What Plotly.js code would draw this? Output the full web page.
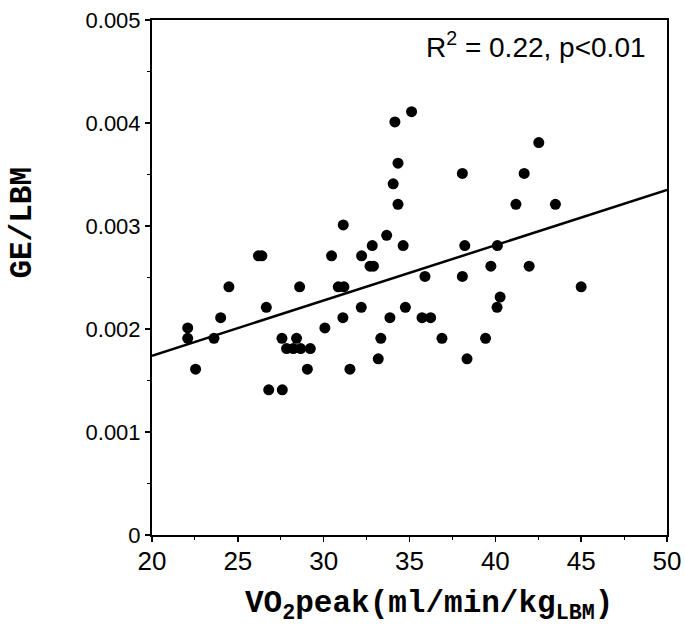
<!DOCTYPE html>
<html>
<head>
<meta charset="utf-8">
<script src="https://cdn.plot.ly/plotly-3.0.1.min.js"></script>
<style>html,body{margin:0;padding:0;background:#fff;}#chart{width:685px;height:626px;}</style>
</head>
<body>
<div id="chart"></div>
<script>
// VO2peak (ml/min/kg LBM)
const vo2peak = [22.08, 22.08, 22.54, 23.61, 24.0, 24.48, 26.2, 26.4, 26.66, 26.8,
  27.59, 27.57, 27.84, 28.23, 28.42, 28.6, 28.66, 29.05, 29.22, 30.07,
  30.46, 30.85, 31.18, 31.12, 31.14, 31.53, 32.19, 32.21, 32.7, 32.9,
  32.83, 33.18, 33.33, 33.67, 33.86, 34.05, 34.15, 34.33, 34.33, 34.63,
  34.76, 35.12, 35.73, 35.9, 36.23, 36.89, 38.08, 38.08, 38.22, 38.35,
  39.43, 39.74, 40.12, 40.1, 40.28, 41.2, 41.68, 41.97, 42.53, 43.5, 45.0];
// GE / LBM
const geLbm = [0.00201, 0.00191, 0.00161, 0.00191, 0.00211, 0.00241, 0.00271, 0.00271, 0.00221, 0.00141,
  0.00141, 0.00191, 0.00181, 0.00181, 0.00191, 0.00241, 0.00181, 0.00161, 0.00181, 0.00201,
  0.00271, 0.00241, 0.00241, 0.00211, 0.00301, 0.00161, 0.00221, 0.00271, 0.00261, 0.00261,
  0.00281, 0.00171, 0.00191, 0.00291, 0.00211, 0.00341, 0.00401, 0.00361, 0.00321, 0.00281,
  0.00221, 0.00411, 0.00211, 0.00251, 0.00211, 0.00191, 0.00351, 0.00251, 0.00281, 0.00171,
  0.00191, 0.00261, 0.00281, 0.00221, 0.00231, 0.00321, 0.00351, 0.00261, 0.00381, 0.00321, 0.00241];
// Regression line end points
const fitX = [20, 50];
const fitY = [0.00174, 0.00335];

const xTicks = [20, 25, 30, 35, 40, 45, 50];
const yTicks = [0, 0.001, 0.002, 0.003, 0.004, 0.005];
const yTickText = ['0', '0.001', '0.002', '0.003', '0.004', '0.005'];
const statText = 'R<sup>2</sup> = 0.22, p<0.01';
const xTitle = 'VO<sub>2</sub>peak(ml/min/kg<sub>LBM</sub>)';
const yTitle = 'GE/LBM';

const sans = 'Liberation Sans, Arial, sans-serif';
const mono = 'Liberation Mono, Courier New, monospace';

const traces = [
  {x: vo2peak, y: geLbm, type: 'scatter', mode: 'markers',
   marker: {color: '#000', size: 11}, hoverinfo: 'x+y', showlegend: false},
  {x: fitX, y: fitY, type: 'scatter', mode: 'lines',
   line: {color: '#000', width: 2.5}, hoverinfo: 'skip', showlegend: false}
];

const layout = {
  width: 685, height: 626,
  margin: {l: 152, r: 18, t: 20, b: 91},
  paper_bgcolor: '#fff', plot_bgcolor: '#fff',
  showlegend: false,
  xaxis: {
    range: [20, 50], tickvals: xTicks, ticks: 'outside', ticklen: 5, tickwidth: 1.5,
    tickcolor: '#000', showline: true, linecolor: '#000', linewidth: 2, mirror: true,
    showgrid: false, zeroline: false, ticklabelstandoff: -3,
    tickfont: {family: sans, size: 26, color: '#000'},
    minor: {dtick: 2.5, ticks: 'outside', ticklen: 3, tickcolor: '#000', tickwidth: 1, showgrid: false}
  },
  yaxis: {
    range: [0, 0.005], tickvals: yTicks, ticktext: yTickText, ticks: 'outside', ticklen: 5, tickwidth: 1.5,
    tickcolor: '#000', showline: true, linecolor: '#000', linewidth: 2, mirror: true,
    showgrid: false, zeroline: false,
    tickfont: {family: sans, size: 22, color: '#000'},
    minor: {dtick: 0.0005, ticks: 'outside', ticklen: 3, tickcolor: '#000', tickwidth: 1, showgrid: false}
  },
  annotations: [
    {text: statText, xref: 'paper', yref: 'paper', x: 0.963, y: 0.99,
     xanchor: 'right', yanchor: 'top', showarrow: false,
     font: {family: sans, size: 28, color: '#000'}},
    {text: xTitle, xref: 'paper', yref: 'paper', x: 0.538, y: -0.138,
     xanchor: 'center', yanchor: 'middle', showarrow: false,
     font: {family: mono, size: 31, color: '#000', weight: 'bold'}},
    {text: yTitle, xref: 'paper', yref: 'paper', x: -0.252, y: 0.607,
     xanchor: 'center', yanchor: 'middle', textangle: -90, showarrow: false,
     font: {family: mono, size: 31, color: '#000', weight: 'bold'}}
  ]
};

Plotly.newPlot('chart', traces, layout, {displayModeBar: false, staticPlot: true});
</script>
</body>
</html>
